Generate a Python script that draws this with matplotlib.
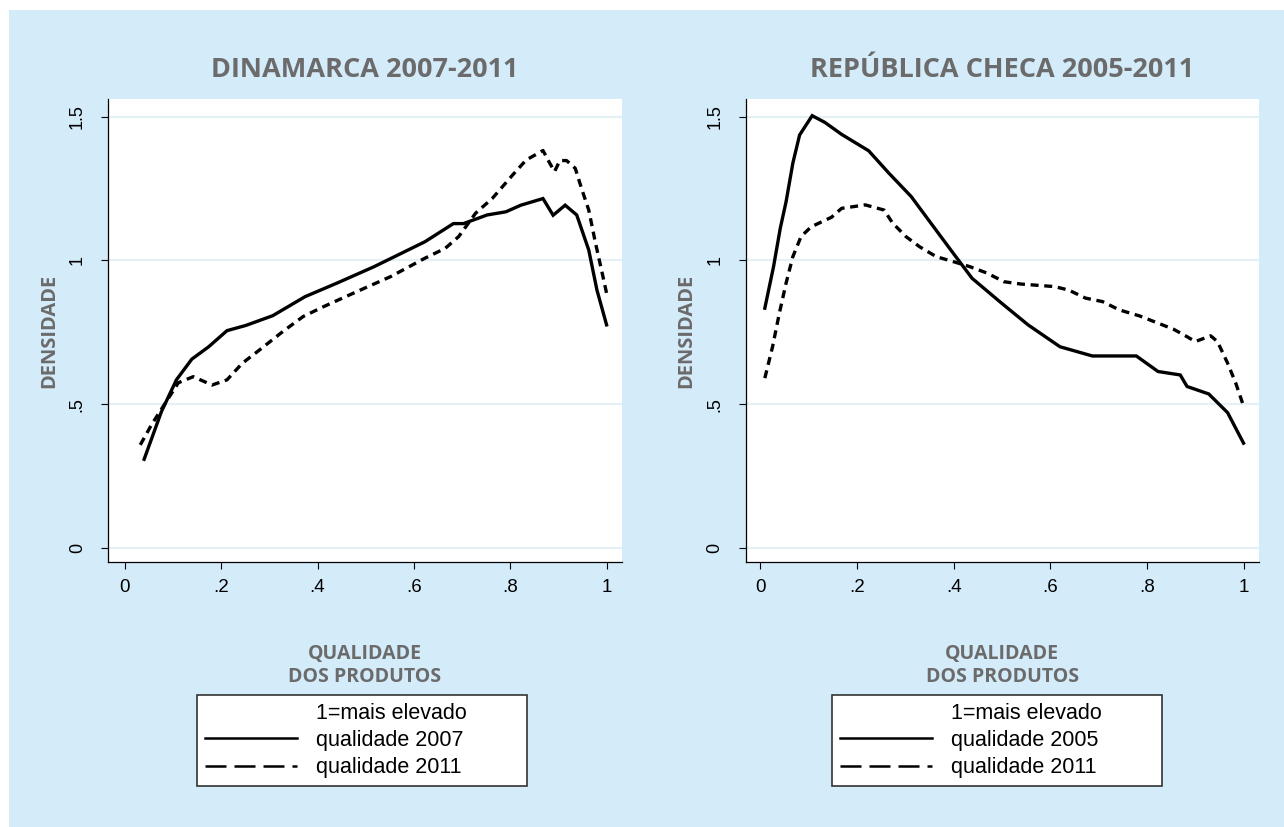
import matplotlib
matplotlib.use("Agg")
import matplotlib.pyplot as plt
from matplotlib.patches import Rectangle
from matplotlib.lines import Line2D

# Dinamarca 2007-2011
dk_x_2007 = [0.040, 0.076, 0.107, 0.139, 0.174, 0.212, 0.251, 0.307, 0.374, 0.440,
             0.517, 0.623, 0.682, 0.703, 0.752, 0.791, 0.822, 0.868, 0.889, 0.914,
             0.938, 0.963, 0.980, 1.000]
dk_y_2007 = [0.309, 0.475, 0.585, 0.657, 0.700, 0.756, 0.774, 0.808, 0.874, 0.921,
             0.978, 1.065, 1.128, 1.128, 1.158, 1.169, 1.192, 1.215, 1.157, 1.192,
             1.158, 1.036, 0.897, 0.776]
dk_x_2011 = [0.032, 0.055, 0.077, 0.111, 0.142, 0.181, 0.212, 0.244, 0.275, 0.328,
             0.370, 0.412, 0.482, 0.552, 0.622, 0.665, 0.693, 0.728, 0.763, 0.805,
             0.833, 0.868, 0.882, 0.892, 0.903, 0.917, 0.935, 0.949, 0.963, 0.977,
             0.991, 1.000]
dk_y_2011 = [0.359, 0.428, 0.486, 0.575, 0.596, 0.567, 0.585, 0.643, 0.683, 0.753,
             0.805, 0.839, 0.892, 0.944, 1.007, 1.042, 1.083, 1.164, 1.216, 1.297,
             1.349, 1.382, 1.338, 1.309, 1.347, 1.347, 1.320, 1.245, 1.175, 1.060,
             0.955, 0.886]

# República Checa 2005-2011
cz_x_2005 = [0.009, 0.027, 0.041, 0.053, 0.067, 0.081, 0.107, 0.133, 0.168, 0.224,
             0.266, 0.312, 0.357, 0.399, 0.438, 0.498, 0.554, 0.620, 0.687, 0.778,
             0.823, 0.869, 0.883, 0.928, 0.967, 1.000]
cz_y_2005 = [0.834, 0.978, 1.112, 1.204, 1.338, 1.436, 1.503, 1.480, 1.438, 1.381,
             1.303, 1.222, 1.120, 1.025, 0.938, 0.853, 0.776, 0.700, 0.668, 0.668,
             0.614, 0.602, 0.562, 0.536, 0.471, 0.365]
cz_x_2011 = [0.009, 0.025, 0.039, 0.053, 0.067, 0.084, 0.105, 0.147, 0.168, 0.217,
             0.256, 0.273, 0.301, 0.329, 0.364, 0.399, 0.434, 0.469, 0.504, 0.539,
             0.609, 0.638, 0.673, 0.708, 0.743, 0.785, 0.820, 0.855, 0.883, 0.900,
             0.932, 0.946, 0.967, 0.984, 1.000]
cz_y_2011 = [0.591, 0.700, 0.816, 0.921, 1.013, 1.083, 1.117, 1.150, 1.181, 1.193,
             1.175, 1.131, 1.083, 1.048, 1.013, 0.996, 0.978, 0.956, 0.926, 0.918,
             0.909, 0.897, 0.869, 0.857, 0.828, 0.807, 0.784, 0.761, 0.735, 0.718,
             0.738, 0.718, 0.643, 0.573, 0.494]

titles = ["DINAMARCA 2007-2011", "REPÚBLICA CHECA 2005-2011"]
legend_first = ["qualidade 2007", "qualidade 2005"]
legend_second = "qualidade 2011"
legend_head = "1=mais elevado"
xticks = [0, 0.2, 0.4, 0.6, 0.8, 1]
xticklabels = ["0", ".2", ".4", ".6", ".8", "1"]
yticks = [0, 0.5, 1, 1.5]
yticklabels = ["0", ".5", "1", "1.5"]

bg = "#d4ebfa"
grey = "#6b6b6b"
W, H = 1284, 827

fig = plt.figure(figsize=(12.84, 8.27), dpi=100)
fig.patch.set_facecolor("white")
fig.patches.append(Rectangle((9 / W, 0), 1 - 9 / W, (H - 10) / H,
                             transform=fig.transFigure, facecolor=bg,
                             edgecolor="none", zorder=-10))

panels = [
    (108, 622, -0.035, 1.032, dk_x_2007, dk_y_2007, dk_x_2011, dk_y_2011, 197),
    (745.5, 1259, -0.031, 1.032, cz_x_2005, cz_y_2005, cz_x_2011, cz_y_2011, 832),
]

for i, (l, r, x0, x1, xa, ya, xb, yb, legx) in enumerate(panels):
    ax = fig.add_axes([l / W, (H - 562) / H, (r - l) / W, (562 - 99) / H])
    ax.set_zorder(1)
    ax.set_facecolor("white")
    ax.plot(xa, ya, color="black", lw=2.4, solid_joinstyle="miter")
    ax.plot(xb, yb, color="black", lw=2.4, dashes=(2.4, 1.7))
    ax.set_xlim(x0, x1)
    ax.set_ylim(-0.048, 1.561)
    ax.set_xticks(xticks)
    ax.set_xticklabels(xticklabels, fontfamily="Liberation Sans", fontsize=13.5)
    ax.set_yticks(yticks)
    ax.set_yticklabels(yticklabels, fontfamily="Liberation Sans", fontsize=13,
                       rotation=90, va="center")
    ax.tick_params(axis="x", length=5, width=0.8, pad=7)
    ax.tick_params(axis="y", length=5, width=0.8, pad=11)
    for s in ["top", "right"]:
        ax.spines[s].set_visible(False)
    for s in ["left", "bottom"]:
        ax.spines[s].set_linewidth(0.9)
    ax.yaxis.grid(True, color="#e4f0f4", lw=1.5)
    ax.set_axisbelow(True)

    ax.set_title(titles[i], fontfamily="Open Sans", fontweight="bold",
                 fontsize=19.5, color=grey, pad=16)
    ax.set_xlabel("QUALIDADE\nDOS PRODUTOS", fontfamily="Open Sans",
                  fontweight="bold", fontsize=14, color=grey, labelpad=35,
                  linespacing=1.15)
    ax.set_ylabel("DENSIDADE", fontfamily="Open Sans", fontweight="bold",
                  fontsize=14.5, color=grey, labelpad=7)

    handles = [Line2D([], [], color="none"),
               Line2D([], [], color="black", lw=1.8),
               Line2D([], [], color="black", lw=1.8, dashes=(8.4, 3.2))]
    leg = fig.legend(handles, [legend_head, legend_first[i], legend_second],
                     loc="upper left", mode="expand",
                     bbox_to_anchor=(legx / W, (H - 785) / H, 330 / W, 90 / H),
                     bbox_transform=fig.transFigure, borderaxespad=0,
                     prop={"family": "Liberation Sans", "size": 15.5},
                     handlelength=4.3, handletextpad=0.9, borderpad=0.35,
                     labelspacing=0.3, fancybox=False, framealpha=1,
                     edgecolor="#333333")
    leg.get_frame().set_linewidth(1.2)

fig.savefig("out.png", dpi=100)
